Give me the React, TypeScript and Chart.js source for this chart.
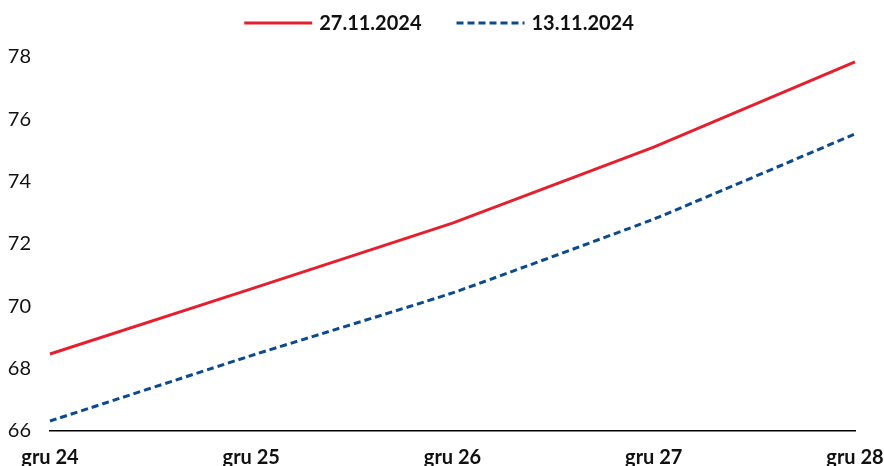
import React, { useEffect, useRef } from "react";
import { Chart, registerables } from "chart.js";

Chart.register(...registerables);

const categories = ["gru 24", "gru 25", "gru 26", "gru 27", "gru 28"];
const series27 = [68.47, 70.56, 72.67, 75.11, 77.84];
const series13 = [66.32, 68.42, 70.43, 72.8, 75.53];
const seriesLabels = ["27.11.2024", "13.11.2024"];

const RED = "#e4202e";
const BLUE = "#0b4a8f";
const FONT = "Lato";

const legendPlugin = {
  id: "customLegend",
  afterDraw(chart: any) {
    const ctx = chart.ctx;
    const ds = chart.data.datasets;
    ctx.save();
    ctx.font = `bold 20px ${FONT}`;
    const lineW = 68;
    const gapText = 7;
    const gapItem = 35;
    const widths = ds.map((d: any) => ctx.measureText(d.label).width);
    let total = 0;
    widths.forEach((w: number, i: number) => {
      total += lineW + gapText + w + (i < widths.length - 1 ? gapItem : 0);
    });
    let x = chart.width / 2 - total / 2 - 3;
    const y = 23;
    ds.forEach((d: any, i: number) => {
      ctx.beginPath();
      ctx.strokeStyle = d.borderColor;
      ctx.lineWidth = 3;
      ctx.setLineDash(d.borderDash || []);
      ctx.moveTo(x, y);
      ctx.lineTo(x + lineW, y);
      ctx.stroke();
      ctx.setLineDash([]);
      ctx.fillStyle = "#111";
      ctx.textBaseline = "middle";
      ctx.textAlign = "left";
      ctx.fillText(d.label, x + lineW + gapText, y + 1);
      x += lineW + gapText + widths[i] + gapItem;
    });
    ctx.restore();
  },
};

export default function App() {
  const ref = useRef<HTMLCanvasElement | null>(null);
  useEffect(() => {
    if (!ref.current) return;
    const chart = new Chart(ref.current, {
      type: "line",
      data: {
        labels: categories,
        datasets: [
          {
            label: seriesLabels[0],
            data: series27,
            borderColor: RED,
            backgroundColor: RED,
            borderWidth: 3,
            pointRadius: 0,
            tension: 0,
          },
          {
            label: seriesLabels[1],
            data: series13,
            borderColor: BLUE,
            backgroundColor: BLUE,
            borderWidth: 3,
            borderDash: [7, 4],
            pointRadius: 0,
            tension: 0.1,
          },
        ],
      },
      options: {
        responsive: false,
        animation: false,
        layout: { autoPadding: false, padding: { left: 8, right: 29, top: 57, bottom: 0 } },
        plugins: {
          legend: { display: false },
          tooltip: { enabled: false },
        },
        scales: {
          x: {
            offset: false,
            grid: { display: false, drawTicks: false },
            border: { display: true, color: "#000", width: 1.5 },
            afterFit(scale: any) {
              scale.height = 35;
              scale.paddingLeft = 0;
              scale.paddingRight = 0;
            },
            ticks: {
              color: "#111",
              maxRotation: 0,
              autoSkip: false,
              padding: 15,
              font: { family: FONT, size: 20, weight: "bold" },
            },
          },
          y: {
            min: 66,
            max: 78,
            grid: { display: false, drawTicks: false },
            border: { display: false },
            afterFit(scale: any) {
              scale.width = 42;
              scale.paddingTop = 0;
              scale.paddingBottom = 0;
            },
            ticks: {
              stepSize: 2,
              color: "#111",
              padding: 19,
              font: { family: FONT, size: 20 },
            },
          },
        },
      },
      plugins: [legendPlugin],
    });
    return () => chart.destroy();
  }, []);
  return (
    <div style={{ position: "absolute", left: 0, top: 0, width: 884, height: 466, overflow: "hidden" }}>
      <canvas ref={ref} width={884} height={466} style={{ display: "block" }} />
    </div>
  );
}
